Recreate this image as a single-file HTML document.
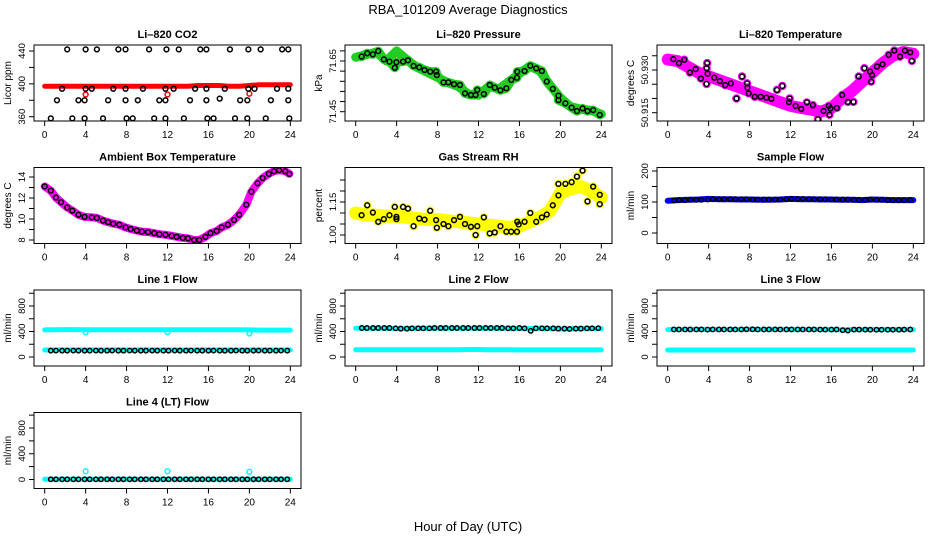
<!DOCTYPE html>
<html><head><meta charset="utf-8"><style>
html,body{margin:0;padding:0;background:#fff}
svg text{font-family:"Liberation Sans",sans-serif}
</style></head><body>
<svg id="chart" width="936" height="540" viewBox="0 0 936 540" xmlns="http://www.w3.org/2000/svg">
<rect width="936" height="540" fill="#fff"/>
<text x="468" y="14" font-size="13" text-anchor="middle">RBA_101209  Average Diagnostics</text>
<text x="468" y="531" font-size="13" text-anchor="middle">Hour of Day (UTC)</text>
</svg>
<script>
// ---- data ----
const hourGrid=[0,1,2,3,4,5,6,7,8,9,10,11,12,13,14,15,16,17,18,19,20,21,22,23,24];
const xTicks=[0,4,8,12,16,20,24];

const co2Band=[397,397,397,397,397,397,397,397,397,397,397,397,397,397,397,398,398,398,397,397,398,399,399,399,399];
const co2Hours=[2.2,4.0,5.1,7.2,7.9,10.2,11.9,13.1,15.2,15.8,18.1,19.9,21.1,23.2,23.8,
1.7,4.0,4.6,6.7,7.9,9.6,11.8,12.6,14.7,15.8,17.6,19.9,20.5,22.7,23.8,
1.2,3.3,3.9,6.2,7.9,9.1,11.2,11.8,14.2,15.8,17.1,19.1,19.8,22.1,23.8,
0.6,2.7,3.9,5.7,8.0,8.6,10.7,11.8,13.6,15.9,16.5,18.6,19.8,21.6,23.9];
const co2Values=[442,442,442,442,442,442,442,442,442,442,442,442,442,442,442,
394,394,394,394,394,394,394,394,394,394,394,394,394,394,394,
380,380,380,380,380,380,380,380,380,380,382,380,380,380,380,
358,358,358,358,358,358,358,358,358,358,358,358,358,358,358];
const co2OutHours=[4.0,12.0,20.0];
const co2OutValues=[387,387,388];

const presBand=[71.665,71.675,71.685,71.650,71.690,71.655,71.625,71.605,71.585,71.565,71.550,71.520,71.515,71.550,71.540,71.570,71.600,71.630,71.610,71.555,71.505,71.470,71.460,71.455,71.440];
const presHours=[0.58,1.13,1.68,2.2,2.75,3.3,3.82,3.98,4.63,5.11,5.66,6.21,6.73,7.28,7.86,7.93,8.58,9.06,9.61,10.19,10.68,11.26,11.72,11.88,12.52,13.1,13.59,14.14,14.72,15.2,15.76,15.79,16.5,17.06,17.64,18.19,18.67,19.26,19.81,19.81,20.49,21.1,21.62,22.17,22.65,23.2,23.85];
const presValues=[71.6675,71.6804,71.6763,71.6892,71.6563,71.6475,71.6234,71.6451,71.6475,71.6531,71.6306,71.625,71.6146,71.6081,71.6081,71.5945,71.5656,71.5656,71.5584,71.5552,71.5223,71.5159,71.5159,71.5359,71.5199,71.5552,71.5448,71.5343,71.5424,71.5753,71.5841,71.6081,71.6106,71.6314,71.621,71.6106,71.5688,71.54,71.5135,71.4958,71.483,71.4661,71.4525,71.4629,71.4525,71.4565,71.4373];

const tempBand=[50.9337,50.9331,50.9311,50.9291,50.9278,50.9265,50.9252,50.9239,50.9226,50.9213,50.9200,50.9187,50.9174,50.9167,50.9161,50.9154,50.9167,50.9200,50.9226,50.9259,50.9291,50.9324,50.9350,50.9363,50.9357];
const tempHours=[0.55,1.1,1.62,2.18,2.73,3.25,3.8,3.86,3.9,3.8,4.55,5.1,5.62,6.17,6.72,7.27,7.76,7.79,7.92,8.51,9.09,9.64,10.13,10.68,11.2,11.85,11.92,12.5,13.05,13.6,14.19,14.68,15.23,15.75,15.81,15.91,16.53,17.05,17.6,18.15,18.67,19.22,19.77,19.87,19.97,20.45,21.0,21.6,22.14,22.7,23.18,23.7,23.86];
const tempValues=[50.9338,50.9324,50.9336,50.9291,50.9303,50.9270,50.9306,50.9324,50.9287,50.9251,50.9273,50.9261,50.9247,50.9253,50.9200,50.9277,50.9253,50.9238,50.9218,50.9206,50.9206,50.9203,50.9199,50.9230,50.9244,50.9187,50.9200,50.9174,50.9163,50.9186,50.9176,50.9127,50.9156,50.9174,50.9143,50.9165,50.9167,50.9212,50.9188,50.9188,50.9277,50.9306,50.9294,50.9259,50.9282,50.9312,50.9320,50.9353,50.9368,50.9347,50.9368,50.9362,50.9332];

const ambHours=[0,0.6,1.1,1.6,2.2,2.7,3.3,3.9,4.6,5.1,5.7,6.2,6.7,7.3,7.9,8.4,9.0,9.5,10.1,10.7,11.2,11.8,12.4,12.9,13.5,14.0,14.6,15.1,15.7,16.2,16.8,17.3,17.9,18.5,19.0,19.7,20.2,20.8,21.3,21.9,22.4,22.9,23.5,23.9];
const ambValues=[13.1,12.7,12.05,11.6,11.1,10.8,10.4,10.2,10.15,10.1,9.85,9.7,9.55,9.45,9.2,9.05,8.9,8.8,8.75,8.65,8.55,8.5,8.4,8.3,8.2,8.15,8.0,8.0,8.3,8.65,8.85,9.2,9.45,9.9,10.4,11.35,12.6,13.4,13.9,14.3,14.55,14.65,14.55,14.3];

const rhBand=[1.10,1.09,1.09,1.085,1.085,1.08,1.075,1.07,1.07,1.065,1.06,1.055,1.05,1.045,1.04,1.035,1.04,1.06,1.08,1.11,1.19,1.21,1.22,1.20,1.17];
const rhHours=[0.58,1.13,1.68,2.2,2.75,3.3,3.82,3.98,3.98,4.63,5.11,5.66,6.21,6.73,7.28,7.86,7.93,8.58,9.06,9.61,10.19,10.68,11.26,11.72,11.88,12.52,13.1,13.59,14.14,14.72,15.2,15.76,15.79,15.92,16.5,17.06,17.64,18.19,18.67,19.26,19.81,19.81,20.49,21.1,21.62,22.17,22.65,23.2,23.85,23.85];
const rhValues=[1.09,1.135,1.102,1.06,1.072,1.09,1.1275,1.0825,1.072,1.1275,1.12,1.04,1.075,1.07,1.11,1.0675,1.033,1.05,1.04,1.0675,1.0825,1.05,1.0375,1.0,1.04,1.08,1.0075,1.012,1.04,1.015,1.015,1.015,1.06,1.048,1.06,1.10,1.06,1.08,1.093,1.135,1.18,1.2325,1.2325,1.24,1.2655,1.2925,1.153,1.22,1.183,1.14];

const flowHours=[0.6,1.1,1.7,2.2,2.8,3.3,3.9,4.4,5.0,5.5,6.1,6.6,7.2,7.7,8.3,8.8,9.4,9.9,10.5,11.0,11.6,12.1,12.7,13.2,13.8,14.3,14.9,15.4,16.0,16.5,17.1,17.6,18.2,18.7,19.3,19.8,20.4,20.9,21.5,22.0,22.6,23.1,23.7];
const sampleBand=[104,106,107,108,110,109,109,108,108,107,107,108,110,109,109,108,108,107,107,106,108,107,106,106,106];
const sampleValues=[105,106,106,107,107,107,108,109,109,109,109,109,109,109,108,108,108,108,108,108,109,110,110,110,109,109,109,109,108,108,108,108,107,107,107,108,107,107,106,106,106,106,107];

const line1Upper=[425,428,430,430,428,428,428,428,428,428,428,428,428,428,428,428,428,428,428,428,425,422,422,422,422];
const line1Lower=[110,110,110,110,110,110,110,110,110,110,110,110,110,110,110,110,110,110,110,110,110,110,110,110,110];
const line1Values=[100,101,100,100,101,100,100,100,101,100,100,101,100,100,101,100,100,100,101,100,100,100,101,100,100,101,100,100,100,101,100,100,100,101,100,100,100,101,100,100,100,101,100];
const line1OutHours=[4.0,12.0,20.0];
const line1OutValues=[390,390,370];

const line2Upper=[450,450,450,450,445,445,450,450,450,450,450,450,450,450,450,450,445,445,450,445,440,440,445,445,445];
const line2Lower=[115,115,115,115,115,115,115,115,115,115,115,118,118,115,115,115,112,112,112,112,112,112,112,112,112];
const line2Values=[455,455,455,455,455,455,450,445,445,450,450,450,450,455,455,455,455,455,455,455,455,455,455,455,455,455,450,450,455,450,410,450,450,450,450,445,445,440,445,445,450,450,452];

const line3Upper=[430,432,432,432,432,432,432,432,432,432,432,432,430,432,432,432,430,425,432,430,430,430,430,430,430];
const line3Lower=[110,110,110,110,110,110,110,110,110,110,110,110,110,110,110,110,110,110,110,110,110,110,110,110,110];
const line3Values=[432,432,432,432,432,432,430,432,432,432,432,432,432,435,435,432,432,432,432,432,432,432,432,432,432,432,430,430,430,432,420,415,430,430,430,428,428,428,428,428,428,430,432];

const line4Band=[5,5,5,5,5,5,5,5,5,5,5,5,5,5,5,5,5,5,5,5,5,5,5,5,5];
const line4Values=[3,3,3,3,3,3,3,3,3,3,3,3,3,3,3,3,3,3,3,3,3,3,3,3,3,3,3,3,3,3,3,3,3,3,3,3,3,3,3,3,3,3,3];
const line4OutHours=[4.0,12.0,20.0];
const line4OutValues=[128,128,120];

// ---- drawing ----
const NS='http://www.w3.org/2000/svg';
const svg=document.getElementById('chart');
const colLeft=[34,345,657], boxW=267, boxH=76;
function el(tag,attrs,parent){const e=document.createElementNS(NS,tag);for(const k in attrs)e.setAttribute(k,attrs[k]);(parent||svg).appendChild(e);return e;}

function makePanel(name,col,row,title,ylab,v0,p0,v1,p1,yticks,ylabels,fmt){
  const L=colLeft[col], T=45+122.5*row;
  const g=el('g',{});
  
  
  const sx=h=>L+boxW*0.04+(h/24)*boxW*0.92;
  const sy=v=>p0+(v-v0)*(p1-p0)/(v1-v0);
  const clipId='clip-'+name;
  const cp=el('clipPath',{id:clipId},g);
  el('rect',{x:L,y:T,width:boxW,height:boxH},cp);
  const plot=el('g',{'clip-path':'url(#'+clipId+')'},g);
  
  
  const box=el('rect',{x:L,y:T,width:boxW,height:boxH,fill:'none',stroke:'#000','stroke-width':1},g);
  
  
  const tt=el('text',{x:L+boxW/2,y:T-7,'font-size':11,'font-weight':'bold','text-anchor':'middle'},g);
  tt.textContent=title;
  
  
  const yl=el('text',{transform:'translate('+(L-23)+','+(T+boxH/2)+') rotate(-90)','font-size':10,'text-anchor':'middle'},g);
  yl.textContent=ylab;
  
  
  const ya=el('g',{},g);
  
  
  yticks.forEach(v=>{const y=sy(v);if(y<T-1||y>T+boxH+1)return;el('line',{x1:L-5,x2:L,y1:y,y2:y,stroke:'#000','stroke-width':1},ya);});
  ylabels.forEach(v=>{const y=sy(v);const t=el('text',{transform:'translate('+(L-9)+','+y+') rotate(-90)','font-size':9.5,'text-anchor':'middle'},ya);t.textContent=fmt(v);
    
    });
  const xa=el('g',{},g);
  
  
  const xb=T+boxH;
  xTicks.forEach(h=>{el('line',{x1:sx(h),x2:sx(h),y1:xb,y2:xb+5,stroke:'#000','stroke-width':1},xa);
    const t=el('text',{x:sx(h),y:xb+17,'font-size':10,'text-anchor':'middle'},xa);t.textContent=h;
    
    });
  return {sx,sy,plot,name};
}
function band(p,hours,vals,color,w,label){
  const d=hours.map((h,i)=>(i?'L':'M')+p.sx(h).toFixed(1)+','+p.sy(vals[i]).toFixed(1)).join(' ');
  const path=el('path',{d:d,fill:'none',stroke:color,'stroke-width':w,'stroke-linejoin':'round','stroke-linecap':'round'},p.plot);
  
  
}
function points(p,hours,vals,color,label,r){
  const g=el('g',{},p.plot);
  
  
  hours.forEach((h,i)=>{const c=el('circle',{cx:p.sx(h),cy:p.sy(vals[i]),r:r||2.4,fill:'none',stroke:color,'stroke-width':1.5},g);
    
    });
}
const f0=v=>String(v), f2=v=>v.toFixed(2), f3=v=>v.toFixed(3);

let p;
p=makePanel('co2',0,0,'Li\u2013820 CO2','Licor ppm',360,116.7,440,51,[360,380,400,420,440],[360,400,440],f0);
band(p,hourGrid,co2Band,'#ff0000',5,'red-band');
points(p,co2OutHours,co2OutValues,'#ff0000','red-outliers');
points(p,co2Hours,co2Values,'#000','black-points');

p=makePanel('pressure',1,0,'Li\u2013820 Pressure','kPa',71.45,111.7,71.65,61,[71.45,71.49,71.53,71.57,71.61,71.65,71.69],[71.45,71.65],f2);
band(p,hourGrid,presBand,'#22cc22',9,'green-band');
band(p,presHours,presValues,'#22cc22',9,'green-band-2');
points(p,presHours,presValues,'#000','black-points');

p=makePanel('li820-temp',2,0,'Li\u2013820 Temperature','degrees C',50.915,112.7,50.930,70,[50.915,50.920,50.925,50.930,50.935],[50.915,50.930],f3);
band(p,hourGrid,tempBand,'#ff00ff',12,'magenta-band');
points(p,tempHours,tempValues,'#ff00ff','magenta-points',3.5);
points(p,tempHours,tempValues,'#000','black-points');

p=makePanel('ambient',0,1,'Ambient Box Temperature','degrees C',8,240,14,177,[8,9,10,11,12,13,14],[8,10,12,14],f0);
band(p,ambHours,ambValues,'#ff00ff',8,'magenta-band');
points(p,ambHours,ambValues,'#000','black-points');

p=makePanel('rh',1,1,'Gas Stream RH','percent',1.00,235,1.15,202,[1.00,1.05,1.10,1.15,1.20,1.25],[1.00,1.15],f2);
band(p,hourGrid,rhBand,'#ffff00',13,'yellow-band');
points(p,rhHours,rhValues,'#ffff00','yellow-points',3.5);
points(p,rhHours,rhValues,'#000','black-points');

p=makePanel('sample-flow',2,1,'Sample Flow','ml/min',0,233,200,171,[0,50,100,150,200],[0,100,200],f0);
band(p,hourGrid,sampleBand,'#0000ff',6,'blue-band');
points(p,flowHours,sampleValues,'#000','black-points',2.2);

const flowTicks=[0,200,400,600,800,1000], flowLabels=[0,400,800];
p=makePanel('line1',0,2,'Line 1 Flow','ml/min',0,357,800,306,flowTicks,flowLabels,f0);
band(p,hourGrid,line1Upper,'#00ffff',5,'cyan-upper-band');
band(p,hourGrid,line1Lower,'#00ffff',5,'cyan-lower-band');
points(p,line1OutHours,line1OutValues,'#00ffff','cyan-outliers');
points(p,flowHours,line1Values,'#000','black-points',2.2);

p=makePanel('line2',1,2,'Line 2 Flow','ml/min',0,357,800,306,flowTicks,flowLabels,f0);
band(p,hourGrid,line2Upper,'#00ffff',5,'cyan-upper-band');
band(p,hourGrid,line2Lower,'#00ffff',5,'cyan-lower-band');
points(p,flowHours,line2Values,'#000','black-points',2.2);

p=makePanel('line3',2,2,'Line 3 Flow','ml/min',0,357,800,306,flowTicks,flowLabels,f0);
band(p,hourGrid,line3Upper,'#00ffff',5,'cyan-upper-band');
band(p,hourGrid,line3Lower,'#00ffff',5,'cyan-lower-band');
points(p,flowHours,line3Values,'#000','black-points',2.2);

p=makePanel('line4',0,3,'Line 4 (LT) Flow','ml/min',0,479.5,800,428,flowTicks,flowLabels,f0);
band(p,hourGrid,line4Band,'#00ffff',5,'cyan-band');
points(p,line4OutHours,line4OutValues,'#00ffff','cyan-outliers');
points(p,flowHours,line4Values,'#000','black-points',2.2);
</script>
</body></html>
